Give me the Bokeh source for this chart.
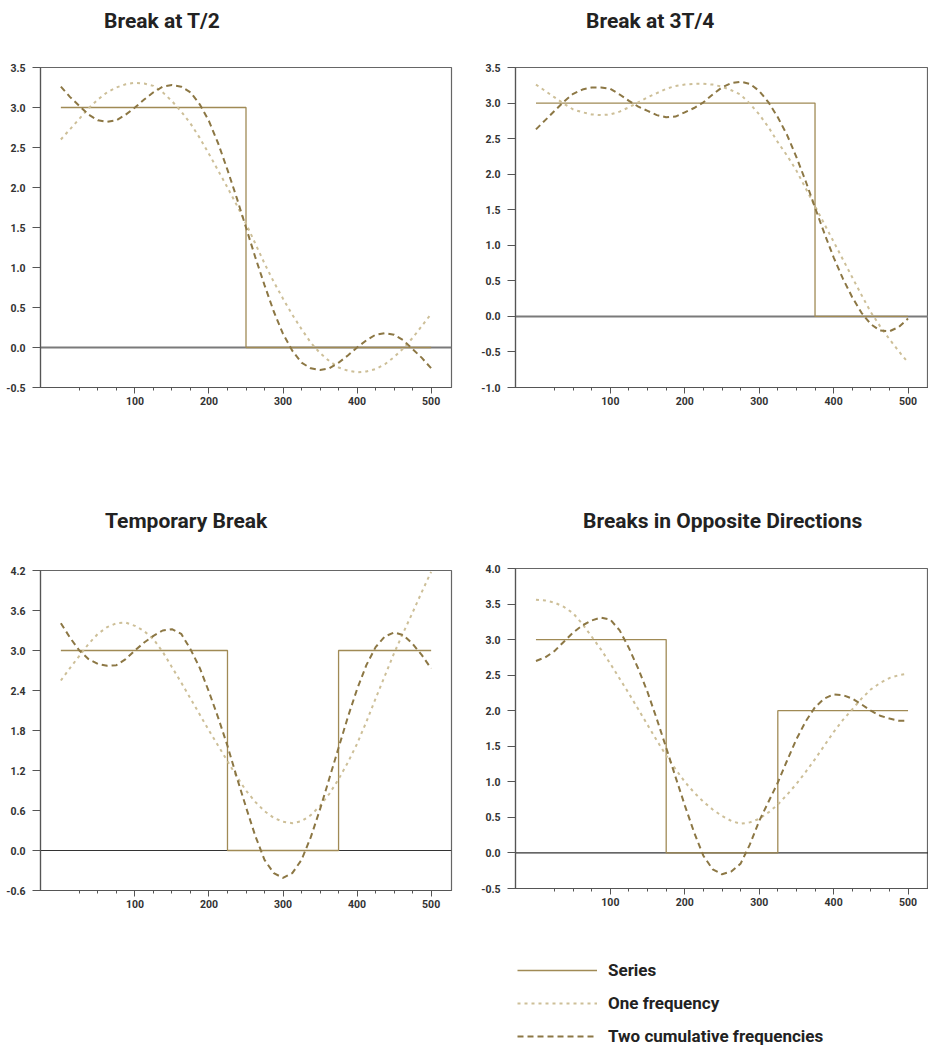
from bokeh.plotting import figure
from bokeh.models import (FixedTicker, PrintfTickFormatter, Span, Range1d, Legend,
                          LegendItem, Div)
from bokeh.layouts import column, row
from bokeh.embed import file_html
from bokeh.resources import INLINE

# ---------------- data ----------------
t = [0, 12.5, 25, 37.5, 50, 62.5, 75, 87.5, 100, 112.5, 125, 137.5, 150, 162.5,
     175, 187.5, 200, 212.5, 225, 237.5, 250, 262.5, 275, 287.5, 300, 312.5,
     325, 337.5, 350, 362.5, 375, 387.5, 400, 412.5, 425, 437.5, 450, 462.5,
     475, 487.5, 500]

x_major = [100, 200, 300, 400, 500]
x_minor = [25, 50, 75, 125, 150, 175, 225, 250, 275, 325, 350, 375, 425, 450, 475]

# Break at T/2
tl_title = "Break at T/2"
tl_edges = [0, 250, 500]
tl_levels = [3, 0]
tl_one = [2.60, 2.73, 2.86, 2.99, 3.10, 3.19, 3.25, 3.29, 3.31, 3.30, 3.27,
          3.19, 3.08, 2.95, 2.80, 2.62, 2.42, 2.21, 2.00, 1.78, 1.55, 1.30,
          1.05, 0.82, 0.61, 0.41, 0.23, 0.06, -0.07, -0.17, -0.25, -0.29,
          -0.31, -0.30, -0.27, -0.21, -0.12, -0.01, 0.12, 0.27, 0.42]
tl_two = [3.26, 3.13, 3.02, 2.91, 2.84, 2.82, 2.84, 2.91, 3.00, 3.10, 3.19,
          3.26, 3.28, 3.26, 3.19, 3.04, 2.83, 2.55, 2.22, 1.87, 1.50, 1.13,
          0.78, 0.45, 0.17, -0.04, -0.19, -0.26, -0.28, -0.26, -0.19, -0.10,
          0.00, 0.09, 0.16, 0.18, 0.16, 0.09, -0.02, -0.13, -0.26]
tl_yticks = [-0.5, 0.0, 0.5, 1.0, 1.5, 2.0, 2.5, 3.0, 3.5]

# Break at 3T/4
tr_title = "Break at 3T/4"
tr_edges = [0, 375, 500]
tr_levels = [3, 0]
tr_one = [3.26, 3.17, 3.08, 2.99, 2.91, 2.87, 2.84, 2.83, 2.84, 2.88, 2.94,
          3.01, 3.08, 3.14, 3.20, 3.24, 3.26, 3.27, 3.27, 3.26, 3.23, 3.18,
          3.12, 2.99, 2.84, 2.66, 2.45, 2.26, 2.05, 1.80, 1.55, 1.30, 1.05,
          0.80, 0.55, 0.30, 0.06, -0.14, -0.32, -0.49, -0.65]
tr_two = [2.63, 2.76, 2.89, 3.02, 3.13, 3.19, 3.22, 3.22, 3.20, 3.12, 3.03,
          2.95, 2.89, 2.83, 2.80, 2.81, 2.87, 2.93, 3.01, 3.12, 3.22, 3.28,
          3.30, 3.27, 3.17, 3.01, 2.80, 2.55, 2.24, 1.90, 1.53, 1.17, 0.83,
          0.53, 0.27, 0.05, -0.11, -0.20, -0.21, -0.15, -0.03]
tr_yticks = [-1.0, -0.5, 0.0, 0.5, 1.0, 1.5, 2.0, 2.5, 3.0, 3.5]

# Temporary Break
bl_title = "Temporary Break"
bl_edges = [0, 225, 375, 500]
bl_levels = [3, 0, 3]
bl_one = [2.55, 2.74, 2.92, 3.10, 3.25, 3.35, 3.41, 3.42, 3.37, 3.29, 3.17,
          2.98, 2.75, 2.52, 2.28, 2.04, 1.80, 1.57, 1.34, 1.11, 0.90, 0.73,
          0.59, 0.49, 0.43, 0.41, 0.44, 0.53, 0.67, 0.85, 1.07, 1.32, 1.60,
          1.93, 2.28, 2.62, 2.96, 3.27, 3.57, 3.88, 4.18]
bl_two = [3.41, 3.19, 3.00, 2.87, 2.80, 2.77, 2.78, 2.87, 3.00, 3.12, 3.22,
          3.30, 3.32, 3.25, 3.02, 2.74, 2.38, 1.99, 1.57, 1.10, 0.65, 0.22,
          -0.14, -0.34, -0.41, -0.34, -0.14, 0.20, 0.62, 1.08, 1.54, 2.00,
          2.42, 2.78, 3.05, 3.21, 3.27, 3.23, 3.10, 2.93, 2.73]
bl_yticks = [-0.6, 0.0, 0.6, 1.2, 1.8, 2.4, 3.0, 3.6, 4.2]

# Breaks in Opposite Directions
br_title = "Breaks in Opposite Directions"
br_edges = [0, 175, 325, 500]
br_levels = [3, 0, 2]
br_one = [3.56, 3.55, 3.52, 3.46, 3.37, 3.22, 3.04, 2.86, 2.66, 2.45, 2.24,
          2.02, 1.80, 1.58, 1.37, 1.18, 1.00, 0.85, 0.72, 0.61, 0.52, 0.45,
          0.41, 0.43, 0.48, 0.57, 0.68, 0.82, 0.97, 1.14, 1.32, 1.51, 1.70,
          1.87, 2.02, 2.17, 2.30, 2.39, 2.46, 2.50, 2.52]
br_two = [2.70, 2.75, 2.84, 2.97, 3.10, 3.20, 3.27, 3.31, 3.28, 3.13, 2.88,
          2.59, 2.26, 1.88, 1.48, 1.07, 0.67, 0.29, -0.04, -0.23, -0.30, -0.26,
          -0.15, 0.12, 0.45, 0.72, 0.99, 1.30, 1.60, 1.85, 2.05, 2.17, 2.23,
          2.22, 2.17, 2.09, 2.00, 1.93, 1.89, 1.86, 1.86]
br_yticks = [-0.5, 0.0, 0.5, 1.0, 1.5, 2.0, 2.5, 3.0, 3.5, 4.0]

legend_labels = ["Series", "One frequency", "Two cumulative frequencies"]

# ---------------- style ----------------
C_SERIES = "#a08a55"
C_ONE = "#cdbf98"
C_TWO = "#8c7744"
FONT = "Roboto"
TXT = "#222222"
SERIES_STYLE = dict(line_color=C_SERIES, line_width=1.3)
ONE_STYLE = dict(line_color=C_ONE, line_width=2, line_dash="3 4")
TWO_STYLE = dict(line_color=C_TWO, line_width=2, line_dash="6 4")


def step_xy(edges, levels):
    xs, ys = [], []
    for i, lv in enumerate(levels):
        xs += [edges[i], edges[i + 1]]
        ys += [lv, lv]
    return xs, ys


def title_div(text, height, pad_left, pad_top):
    html = ('<div style="margin:0;padding:%dpx 0 0 %dpx;font-family:Roboto;'
            'font-size:21px;font-weight:bold;color:%s;line-height:normal;'
            'white-space:nowrap;">%s</div>' % (pad_top, pad_left, TXT, text))
    return Div(text=html, width=464, height=height, margin=(0, 0, 0, 0))


def make_chart(edges, levels, one, two, yticks, width, height,
               bl, br, bt, bb, zero_color, zero_width):
    p = figure(width=width, height=height,
               x_range=Range1d(-27.5, 527.5),
               y_range=Range1d(yticks[0], yticks[-1]),
               output_backend="svg", toolbar_location=None,
               min_border_left=bl, min_border_right=br,
               min_border_top=bt, min_border_bottom=bb)
    p.grid.visible = False
    p.outline_line_color = "#666666"
    p.outline_line_width = 1.2
    p.background_fill_color = "white"
    p.border_fill_color = "white"

    xa = p.xaxis[0]
    xa.ticker = FixedTicker(ticks=x_major, minor_ticks=x_minor)
    xa.major_tick_out = 6
    xa.major_tick_in = 0
    xa.minor_tick_out = 3
    xa.minor_tick_in = 0
    xa.major_label_standoff = 3

    ya = p.yaxis[0]
    ya.ticker = FixedTicker(ticks=yticks, minor_ticks=[])
    ya.formatter = PrintfTickFormatter(format="%.1f")
    ya.major_tick_out = 8
    ya.major_tick_in = 0
    ya.major_label_standoff = 7

    for ax in (xa, ya):
        ax.axis_line_color = "#555555"
        ax.axis_line_width = 1.2
        ax.major_tick_line_color = "#555555"
        ax.minor_tick_line_color = "#555555"
        ax.major_label_text_font = FONT
        ax.major_label_text_font_size = "10.5px"
        ax.major_label_text_font_style = "bold"
        ax.major_label_text_color = "#333333"

    p.add_layout(Span(location=0, dimension="width", line_color=zero_color,
                      line_width=zero_width, level="underlay"))

    sx, sy = step_xy(edges, levels)
    p.line(sx, sy, **SERIES_STYLE)
    p.line(t, one, **ONE_STYLE)
    p.line(t, two, **TWO_STYLE)
    return p


p_tl = make_chart(tl_edges, tl_levels, tl_one, tl_two, tl_yticks,
                  464, 444, 40, 13, 8, 116, "#7a7a7a", 2)
p_tr = make_chart(tr_edges, tr_levels, tr_one, tr_two, tr_yticks,
                  464, 444, 51, 0, 8, 116, "#7a7a7a", 2)
p_bl = make_chart(bl_edges, bl_levels, bl_one, bl_two, bl_yticks,
                  464, 361, 40, 13, 8, 33, "#333333", 1.2)
p_br = make_chart(br_edges, br_levels, br_one, br_two, br_yticks,
                  464, 363, 51, 0, 8, 35, "#333333", 1.2)

c_tl = column(title_div(tl_title, 59, 104, 9), p_tl)
c_tr = column(title_div(tr_title, 59, 122, 9), p_tr)
c_bl = column(title_div(bl_title, 59, 105, 6), p_bl)
c_br = column(title_div(br_title, 57, 119, 6), p_br)

# legend strip: key glyphs come from the last chart's series (kept outside the view)
lg = figure(width=928, height=124, x_range=Range1d(1000, 1001), y_range=Range1d(0, 1),
            output_backend="svg", toolbar_location=None,
            x_axis_type=None, y_axis_type=None,
            min_border_left=0, min_border_right=0, min_border_top=0, min_border_bottom=0)
lg.grid.visible = False
lg.outline_line_color = None
sx, sy = step_xy(br_edges, br_levels)
k1 = lg.line(sx, sy, **SERIES_STYLE)
k2 = lg.line(t, br_one, **ONE_STYLE)
k3 = lg.line(t, br_two, **TWO_STYLE)
legend = Legend(items=[LegendItem(label=legend_labels[0], renderers=[k1]),
                       LegendItem(label=legend_labels[1], renderers=[k2]),
                       LegendItem(label=legend_labels[2], renderers=[k3])],
                location=(517, 1), orientation="vertical",
                glyph_width=80, glyph_height=20, label_height=20,
                label_standoff=11, spacing=13, padding=0, margin=0,
                border_line_color=None, background_fill_alpha=0,
                label_text_font=FONT, label_text_font_size="17px",
                label_text_font_style="bold", label_text_color=TXT)
lg.add_layout(legend, "center")

layout = column(row(c_tl, c_tr), row(c_bl, c_br), lg)

open("out.html", "w").write(file_html(layout, INLINE))
